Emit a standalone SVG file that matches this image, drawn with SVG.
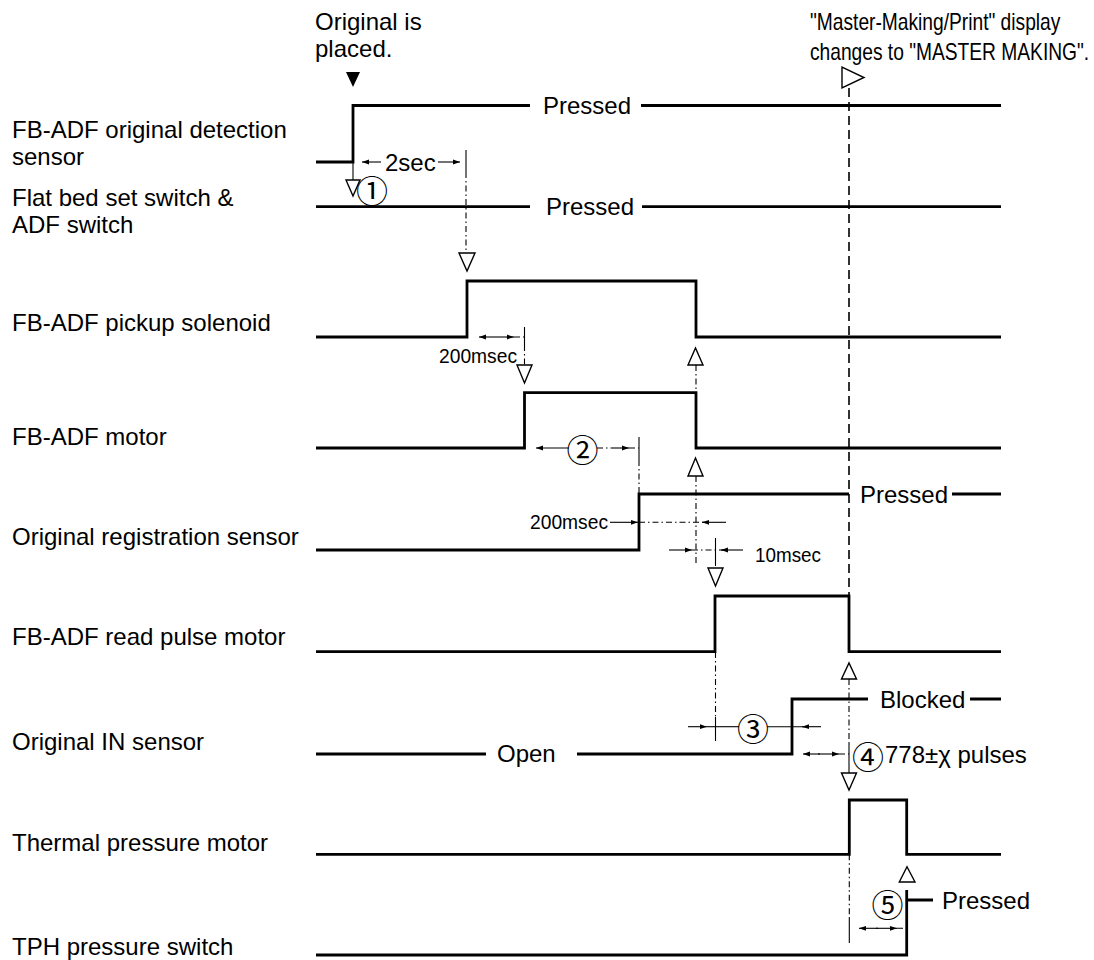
<svg xmlns="http://www.w3.org/2000/svg" width="1094" height="960" viewBox="0 0 1094 960">
<style>
text { font-family: "Liberation Sans", Arial, Helvetica, sans-serif; fill: #000; }
.lbl { font-size: 24px; }
.st { font-size: 24px; }
.ms { font-size: 21px; }
.cn { font-family: "Noto Sans CJK JP", "DejaVu Sans", sans-serif; font-size: 32px; text-anchor: middle; dominant-baseline: central; }
.sig { fill: none; stroke: #000; stroke-width: 2.8; stroke-linejoin: miter; stroke-linecap: butt; }
.dim { fill: none; stroke: #000; stroke-width: 1.1; }
.dd { fill: none; stroke: #000; stroke-width: 1.1; stroke-dasharray: 6 3 1.5 3; }
.dash { fill: none; stroke: #000; stroke-width: 1.6; stroke-dasharray: 9 5; }
.tri { fill: #fff; stroke: #000; stroke-width: 1.4; stroke-linejoin: miter; }
.arr { fill: none; stroke: #000; stroke-width: 1.1; marker-end: url(#ah); }
</style>
<defs>
<marker id="ah" markerWidth="8" markerHeight="6" refX="7" refY="3" orient="auto" markerUnits="userSpaceOnUse">
<path d="M0,0.6 L7,3 L0,5.4 z" fill="#000"/>
</marker>
</defs>

<g id="labels">
<text class="lbl" x="12" y="138">FB-ADF original detection</text>
<text class="lbl" x="12" y="165">sensor</text>
<text class="lbl" x="12" y="206">Flat bed set switch &amp;</text>
<text class="lbl" x="12" y="233">ADF switch</text>
<text class="lbl" x="12" y="331">FB-ADF pickup solenoid</text>
<text class="lbl" x="12" y="445">FB-ADF motor</text>
<text class="lbl" x="12" y="545">Original registration sensor</text>
<text class="lbl" x="12" y="645">FB-ADF read pulse motor</text>
<text class="lbl" x="12" y="750">Original IN sensor</text>
<text class="lbl" x="12" y="851">Thermal pressure motor</text>
<text class="lbl" x="12" y="955">TPH pressure switch</text>
</g>

<g id="annotations">
<text class="st" x="315" y="30">Original is</text>
<text class="st" x="315" y="57">placed.</text>
<polygon points="346,72 360,72 353,87" fill="#000"/>
<text class="st" transform="translate(810,30) scale(0.8,1)" x="0" y="0">"Master-Making/Print" display</text>
<text class="st" transform="translate(810,60) scale(0.8,1)" x="0" y="0">changes to "MASTER MAKING".</text>
<polygon class="tri" points="842,67 842,88 864,77.5"/>
</g>

<g id="sig-fb-adf-original-detection-sensor">
<path class="sig" d="M316,162 H353 V105.5 H530 M641,105.5 H1001"/>
<text class="st" x="543" y="114">Pressed</text>
</g>

<g id="sig-flat-bed-set-switch">
<path class="sig" d="M316,206.7 H530 M642,206.7 H1001"/>
<text class="st" x="546" y="215">Pressed</text>
</g>

<g id="sig-pickup-solenoid">
<path class="sig" d="M316,337 H467 V281 H696 V337 H1001"/>
</g>

<g id="sig-fb-adf-motor">
<path class="sig" d="M316,448 H524.5 V392.7 H696 V448 H1001"/>
</g>

<g id="sig-original-registration-sensor">
<path class="sig" d="M316,550 H639 V494 H849 M952,494 H1001"/>
<text class="st" x="860" y="502.5">Pressed</text>
</g>

<g id="sig-read-pulse-motor">
<path class="sig" d="M316,651.7 H715 V596 H849 V651.7 H1001"/>
</g>

<g id="sig-original-in-sensor">
<path class="sig" d="M316,754 H486 M577,754 H792 V699 H868 M970,699 H1001"/>
<text class="st" x="497" y="762">Open</text>
<text class="st" x="880" y="707.5">Blocked</text>
</g>

<g id="sig-thermal-pressure-motor">
<path class="sig" d="M316,854.3 H849.3 V800 H906.7 V854.3 H1001"/>
</g>

<g id="sig-tph-pressure-switch">
<path class="sig" d="M316,955 H906.7 V890 M906.7,900 H933"/>
<text class="st" x="942" y="908.5">Pressed</text>
</g>

<g id="connectors">
<line class="dim" x1="353" y1="162" x2="353" y2="180"/>
<polygon class="tri" points="346,180 360,180 353,196"/>
<text class="cn" x="372" y="189">①</text>
<line class="arr" x1="381" y1="162" x2="362" y2="162"/>
<text class="st" x="385" y="170.5">2sec</text>
<line class="arr" x1="438" y1="162" x2="460" y2="162"/>
<line class="dim" x1="466" y1="150" x2="466" y2="172"/>
<line class="dd" x1="466" y1="172" x2="466" y2="253"/>
<polygon class="tri" points="459,253 475,253 467,271"/>

<line class="arr" x1="497" y1="337" x2="479" y2="337"/>
<line class="arr" x1="497" y1="337" x2="514" y2="337"/>
<line class="dd" x1="514" y1="337" x2="524" y2="337"/>
<line class="dim" x1="524.5" y1="327" x2="524.5" y2="345"/>
<line class="dd" x1="524.5" y1="345" x2="524.5" y2="365"/>
<text class="ms" x="439" y="363" textLength="78" lengthAdjust="spacingAndGlyphs">200msec</text>
<polygon class="tri" points="517,365 532,365 524.5,383"/>

<line class="arr" x1="569" y1="448" x2="536" y2="448"/>
<text class="cn" x="582.5" y="448">②</text>
<line class="dd" x1="597" y1="448" x2="612" y2="448"/>
<line class="arr" x1="612" y1="448" x2="629" y2="448"/>
<line class="dd" x1="629" y1="448" x2="639" y2="448"/>
<line class="dim" x1="639" y1="437" x2="639" y2="460"/>
<line class="dd" x1="639" y1="460" x2="639" y2="494"/>

<polygon class="tri" points="688,365 703,365 695.5,348"/>
<line class="dd" x1="696" y1="365" x2="696" y2="392.7"/>
<polygon class="tri" points="688,476 703,476 695.5,458"/>
<line class="dd" x1="696" y1="476" x2="696" y2="566"/>

<text class="ms" x="530" y="528.5" textLength="78" lengthAdjust="spacingAndGlyphs">200msec</text>
<line class="arr" x1="610" y1="522.3" x2="638" y2="522.3"/>
<line class="dd" x1="639" y1="522.3" x2="705" y2="522.3"/>
<line class="arr" x1="726" y1="522.3" x2="702" y2="522.3"/>

<line class="arr" x1="669" y1="550" x2="692" y2="550"/>
<line class="dd" x1="692" y1="550" x2="728" y2="550"/>
<line class="arr" x1="743" y1="550" x2="721" y2="550"/>
<line class="dim" x1="715.5" y1="538" x2="715.5" y2="566"/>
<text class="ms" x="755" y="562" font-size="20" textLength="66" lengthAdjust="spacingAndGlyphs">10msec</text>
<polygon class="tri" points="708,568 723,568 715.5,586"/>

<line class="dash" x1="849" y1="88" x2="849" y2="596"/>
<polygon class="tri" points="841.5,679 856.5,679 849,663"/>
<line class="dd" x1="849" y1="679" x2="849" y2="742"/>
<line class="dim" x1="849" y1="742" x2="849" y2="768"/>
<line class="dd" x1="849" y1="768" x2="849" y2="773"/>
<polygon class="tri" points="841.5,773 856.5,773 849,790"/>
<line class="dd" x1="849.3" y1="854.3" x2="849.3" y2="917"/>
<line class="dim" x1="849.3" y1="917" x2="849.3" y2="943"/>

<line class="dd" x1="715.5" y1="652" x2="715.5" y2="716"/>
<line class="arr" x1="688" y1="726.7" x2="707" y2="726.7"/>
<line class="dim" x1="715.5" y1="716.7" x2="715.5" y2="741"/>
<line class="dim" x1="707" y1="726.7" x2="739" y2="726.7"/>
<text class="cn" x="753" y="726.7">③</text>
<line class="dim" x1="767" y1="726.7" x2="805" y2="726.7"/>
<line class="arr" x1="821" y1="726.7" x2="802" y2="726.7"/>

<line class="arr" x1="820" y1="754" x2="803" y2="754"/>
<line class="arr" x1="818" y1="754" x2="839" y2="754"/>
<line class="dd" x1="839" y1="754" x2="849" y2="754"/>
<text class="cn" x="868" y="755">④</text>
<text class="st" x="885" y="763.3">778±χ pulses</text>

<polygon class="tri" points="899.3,882 915,882 907,866.7"/>
<text class="cn" x="887.5" y="902.7">⑤</text>
<line class="arr" x1="878" y1="928.3" x2="859" y2="928.3"/>
<line class="arr" x1="876" y1="928.3" x2="897" y2="928.3"/>
<line class="dd" x1="897" y1="928.3" x2="906.7" y2="928.3"/>
</g>
</svg>
